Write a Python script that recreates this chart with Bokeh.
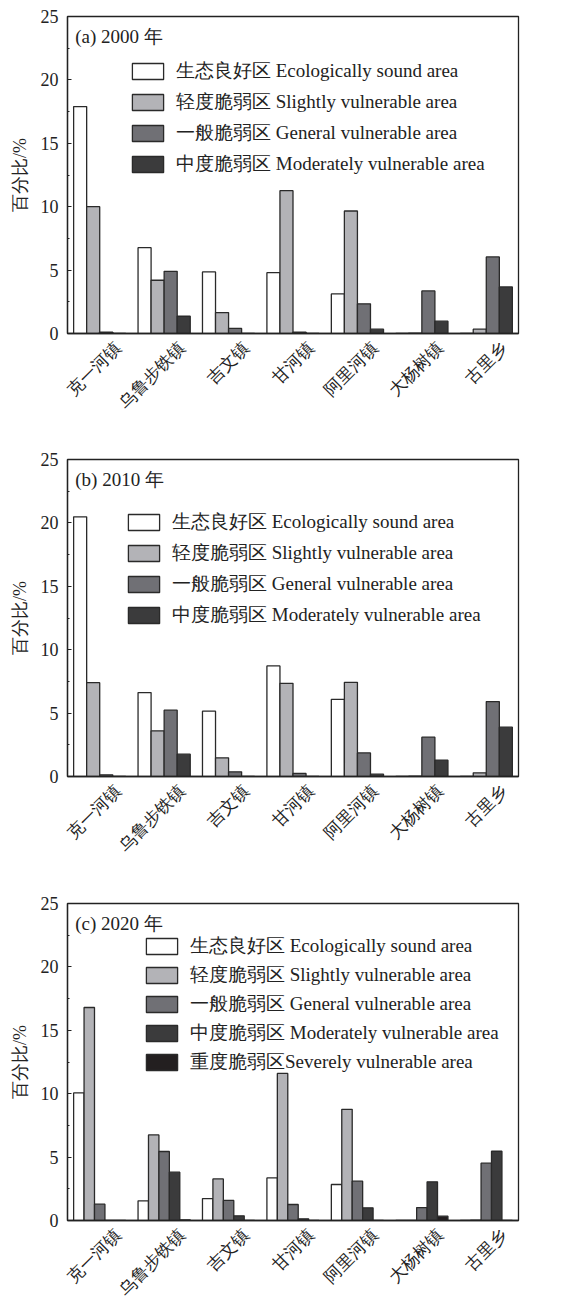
import math
from bokeh.plotting import figure
from bokeh.models import (ColumnDataSource, Legend, LegendItem, Label,
                          Range1d, FixedTicker, CustomJSTickFormatter)
from bokeh.transform import dodge
from bokeh.layouts import column
from bokeh.embed import file_html
from bokeh.resources import INLINE

towns = ["克一河镇", "乌鲁步铁镇", "吉文镇", "甘河镇", "阿里河镇", "大杨树镇", "古里乡"]

class_labels = [
    "生态良好区 Ecologically sound area",
    "轻度脆弱区 Slightly vulnerable area",
    "一般脆弱区 General vulnerable area",
    "中度脆弱区 Moderately vulnerable area",
    "重度脆弱区Severely vulnerable area",
]
class_colors = ["#ffffff", "#b3b3b7", "#707075", "#3b3b3c", "#231f20"]

years = ["(a) 2000 年", "(b) 2010 年", "(c) 2020 年"]

# 2000
sound_2000 = [17.9, 6.77, 4.86, 4.8, 3.12, 0.0, 0.0]
slight_2000 = [10.0, 4.2, 1.65, 11.26, 9.66, 0.03, 0.34]
general_2000 = [0.1, 4.9, 0.4, 0.1, 2.34, 3.36, 6.04]
moderate_2000 = [0.0, 1.36, 0.0, 0.0, 0.34, 0.97, 3.67]

# 2010
sound_2010 = [20.48, 6.62, 5.15, 8.72, 6.09, 0.0, 0.0]
slight_2010 = [7.4, 3.6, 1.47, 7.35, 7.43, 0.02, 0.29]
general_2010 = [0.13, 5.23, 0.37, 0.24, 1.86, 3.1, 5.91]
moderate_2010 = [0.0, 1.76, 0.0, 0.0, 0.18, 1.29, 3.89]

# 2020
sound_2020 = [10.06, 1.55, 1.73, 3.36, 2.84, 0.0, 0.0]
slight_2020 = [16.8, 6.75, 3.28, 11.6, 8.77, 0.0, 0.02]
general_2020 = [1.29, 5.44, 1.58, 1.26, 3.1, 1.02, 4.52]
moderate_2020 = [0.0, 3.81, 0.37, 0.13, 1.0, 3.05, 5.46]
severe_2020 = [0.0, 0.05, 0.0, 0.0, 0.0, 0.34, 0.0]

y_ticks = [0, 5, 10, 15, 20, 25]
y_minor = [2.5, 7.5, 12.5, 17.5, 22.5]

FONT = "Liberation Serif"
INK = "#222222"

panels = [
    dict(title=years[0], series=[sound_2000, slight_2000, general_2000, moderate_2000],
         top=16, height=451, legend_loc=(61, 156), spacing=5),
    dict(title=years[1], series=[sound_2010, slight_2010, general_2010, moderate_2010],
         top=8, height=444, legend_loc=(57, 148), spacing=5),
    dict(title=years[2], series=[sound_2020, slight_2020, general_2020, moderate_2020, severe_2020],
         top=8, height=415, legend_loc=(75, 145), spacing=3),
]

n_towns = len(towns)
slot_center = [i + 0.5 for i in range(n_towns)]      # one unit slot per town
label_anchor = [i + 0.78 for i in range(n_towns)]    # rotated label anchor within slot

figs = []
for pan in panels:
    series = pan["series"]
    n = len(series)
    data = {"town": towns, "pos": slot_center}
    for i, s in enumerate(series):
        data[f"s{i}"] = s
    src = ColumnDataSource(data)

    p = figure(x_range=Range1d(0, n_towns), y_range=Range1d(0, 25),
               width=548, height=pan["height"], output_backend="svg",
               toolbar_location=None, min_border_left=67, min_border_right=30,
               min_border_top=pan["top"], min_border_bottom=pan["height"] - pan["top"] - 317)
    p.xgrid.visible = False
    p.ygrid.visible = False
    p.outline_line_color = INK
    p.outline_line_width = 1.3

    bw = 0.81 / n
    items = []
    for i in range(n):
        off = (i - (n - 1) / 2) * bw
        r = p.vbar(x=dodge("pos", off), top=f"s{i}", bottom=0, width=bw,
                   source=src, fill_color=class_colors[i], line_color="#2a2a2a", line_width=1.3)
        items.append(LegendItem(label=class_labels[i], renderers=[r]))

    leg = Legend(items=items, location=pan["legend_loc"], glyph_width=39, glyph_height=20,
                 label_height=20, label_standoff=9, spacing=pan["spacing"], padding=0, margin=0,
                 border_line_alpha=0, background_fill_alpha=0,
                 label_text_font=FONT, label_text_font_size="19px", label_text_color=INK)
    p.add_layout(leg)

    p.add_layout(Label(x=0.12, y=23.45, text=pan["title"], text_font=FONT,
                       text_font_size="19px", text_color=INK, text_baseline="alphabetic"))

    xa = p.xaxis[0]
    xa.ticker = FixedTicker(ticks=label_anchor, minor_ticks=[])
    xa.formatter = CustomJSTickFormatter(args=dict(names=towns),
                                         code="return names[Math.floor(tick)];")
    xa.major_tick_in = 0
    xa.major_tick_out = 0
    xa.minor_tick_in = 0
    xa.minor_tick_out = 0
    xa.major_label_orientation = math.pi / 4
    xa.major_label_standoff = 12
    xa.major_label_text_font = FONT
    xa.major_label_text_font_size = "17px"
    xa.major_label_text_color = INK
    xa.axis_line_color = INK
    xa.axis_line_width = 1.3

    ya = p.yaxis[0]
    ya.ticker = FixedTicker(ticks=y_ticks, minor_ticks=y_minor)
    ya.major_tick_in = 4
    ya.major_tick_out = 0
    ya.minor_tick_in = 2
    ya.minor_tick_out = 0
    ya.major_label_standoff = 9
    ya.major_label_text_font = FONT
    ya.major_label_text_font_size = "18px"
    ya.major_label_text_color = INK
    ya.axis_label = "百分比/%"
    ya.axis_label_text_font = FONT
    ya.axis_label_text_font_size = "18px"
    ya.axis_label_text_font_style = "normal"
    ya.axis_label_text_color = INK
    ya.axis_label_standoff = 8
    ya.axis_line_color = INK
    ya.axis_line_width = 1.3
    ya.major_tick_line_color = INK
    ya.minor_tick_line_color = INK

    figs.append(p)

layout = column(*figs, spacing=0)
open("out.html", "w").write(file_html(layout, INLINE))
